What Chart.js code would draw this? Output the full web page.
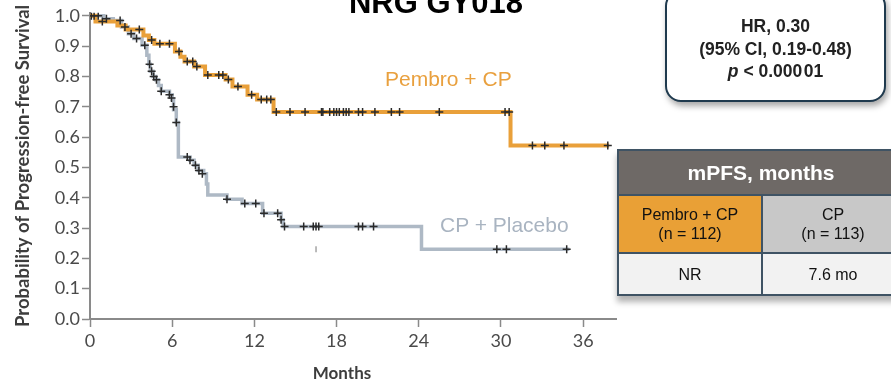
<!DOCTYPE html>
<html>
<head>
<meta charset="utf-8">
<script src="https://cdn.jsdelivr.net/npm/chart.js@4/dist/chart.umd.min.js"></script>
<style>
  html, body { margin: 0; padding: 0; background: #fff; overflow: hidden; }
  #wrap { position: relative; width: 891px; height: 384px; overflow: hidden; }
  canvas { position: absolute; left: 0; top: 0; }
  .ov { position: absolute; white-space: nowrap; }
  #title { left: 286px; width: 300px; top: -13px; text-align: center; font: bold 31px "Liberation Sans", Arial, sans-serif; color: #000; line-height: 31px; }
  #hrbox { left: 665px; top: -10px; width: 221px; height: 112px; box-sizing: border-box; border: 2px solid #1f3a4e; border-radius: 16px; background: #fff;
           box-shadow: 2px 4px 6px rgba(0,0,0,0.35); text-align: center; font: bold 17.5px "Liberation Sans", Arial, sans-serif; color: #222;
           line-height: 22.5px; padding-top: 23px; }
  #hrbox div { height: 22.5px; }
  #lblP { left: 385px; top: 68px; font: 21px "Liberation Sans", Arial, sans-serif; color: #E9A03E; line-height: 21px; }
  #lblC { left: 440px; top: 214px; font: 21px "Liberation Sans", Arial, sans-serif; color: #A9B4C1; line-height: 21px; }
  #months { left: 292px; width: 100px; top: 363px; text-align: center; font: bold 17px Lato, sans-serif; color: #3d3d3d; line-height: 20px; }
  #tbl { left: 617px; top: 149px; width: 284px; border: 2px solid #3f5364; box-shadow: 0 6px 6px rgba(0,0,0,0.3); font-family: "Liberation Sans", Arial, sans-serif; }
  #tbl .row { display: flex; }
  #tbl .hd { height: 43px; background: #6e6966; color: #fff; font-weight: bold; font-size: 21px; align-items: center; justify-content: center; border-bottom: 2px solid #3f5364; }
  #tbl .c { display: flex; flex-direction: column; align-items: center; justify-content: center; text-align: center; font-size: 16px; color: #111; line-height: 19px; }
  #tbl .r2 { height: 56px; border-bottom: 2px solid #3f5364; }
  #tbl .r3 { height: 40px; background: #f2f2f2; }
  #tbl .c1 { width: 142px; border-right: 2px solid #3f5364; }
  #tbl .c2 { flex: 1; }
</style>
</head>
<body>
<div id="wrap">
  <canvas id="km" width="891" height="384"></canvas>
  <div class="ov" id="title">NRG GY018</div>
  <div class="ov" id="lblP">Pembro + CP</div>
  <div class="ov" id="lblC">CP + Placebo</div>
  <div class="ov" id="months">Months</div>
  <div class="ov" id="hrbox">
    <div>HR, 0.30</div>
    <div>(95% CI, 0.19-0.48)</div>
    <div><i>p</i> &lt; 0.000&#8202;01</div>
  </div>
  <div class="ov" id="tbl">
    <div class="row hd">mPFS, months</div>
    <div class="row r2">
      <div class="c c1" style="background:#E9A036"><span>Pembro + CP</span><span>(n = 112)</span></div>
      <div class="c c2" style="background:#c8c8c8"><span>CP</span><span>(n = 113)</span></div>
    </div>
    <div class="row r3">
      <div class="c c1">NR</div>
      <div class="c c2">7.6 mo</div>
    </div>
  </div>
</div>
<script>
// ---- Data ----
const monthTicks = [0, 6, 12, 18, 24, 30, 36];
const survivalTicks = [0.0, 0.1, 0.2, 0.3, 0.4, 0.5, 0.6, 0.7, 0.8, 0.9, 1.0];

// Pembro + CP (Kaplan-Meier steps)
const pembroMonths   = [0, 0.4, 2.0, 2.6, 3.9, 4.3, 4.7, 6.2, 6.6, 6.9, 7.6, 8.4, 9.9, 10.4, 11.5, 12.2, 13.4, 30.7, 37.9];
const pembroSurvival = [1.0, 0.981, 0.968, 0.955, 0.935, 0.92, 0.908, 0.882, 0.865, 0.849, 0.833, 0.805, 0.79, 0.767, 0.74, 0.724, 0.683, 0.572, 0.572];
const pembroCensorMonths   = [0.3, 0.9, 3.6, 4.5, 5.1, 5.8, 6.5, 7.1, 7.5, 7.8, 8.6, 9.4, 9.7, 10.1, 10.8, 11.8, 12.5, 12.9, 13.2, 13.6,
                              14.6, 15.7, 16.9, 17.0, 17.5, 17.8, 18.0, 18.2, 18.5, 18.7, 18.9, 19.6, 19.9, 20.8, 22.0, 22.6, 25.5, 30.3, 30.6,
                              32.3, 33.2, 34.6, 37.8];
const pembroCensorSurvival = [1.0, 0.981, 0.955, 0.92, 0.908, 0.908, 0.882, 0.849, 0.849, 0.833, 0.805, 0.805, 0.805, 0.79, 0.767, 0.74, 0.724, 0.724, 0.724, 0.683,
                              0.683, 0.683, 0.683, 0.683, 0.683, 0.683, 0.683, 0.683, 0.683, 0.683, 0.683, 0.683, 0.683, 0.683, 0.683, 0.683, 0.683, 0.683, 0.683,
                              0.572, 0.572, 0.572, 0.572];

// CP + Placebo (Kaplan-Meier steps)
const placeboMonths   = [0, 1.0, 1.7, 2.3, 2.8, 3.2, 3.8, 4.15, 4.3, 4.4, 4.6, 4.8, 5.0, 5.2, 5.8, 6.0, 6.1, 6.3, 6.45, 7.3, 7.6, 7.9, 8.3, 8.5, 8.6, 10.0, 11.1, 12.6, 13.95, 14.1, 24.2, 35.0];
const placeboSurvival = [1.0, 0.99, 0.985, 0.963, 0.941, 0.925, 0.903, 0.87, 0.84, 0.817, 0.80, 0.789, 0.77, 0.751, 0.74, 0.725, 0.69, 0.648, 0.534, 0.524, 0.507, 0.49, 0.479, 0.445, 0.409, 0.395, 0.381, 0.349, 0.327, 0.305, 0.23, 0.23];
const placeboCensorMonths   = [0.1, 0.6, 1.2, 2.2, 2.55, 3.0, 3.4, 4.0, 4.35, 4.5, 4.65, 4.85, 5.2, 5.8, 5.95, 6.1, 6.3, 7.1, 7.3, 7.7,
                               7.95, 8.2, 10.0, 11.3, 12.1, 12.7, 13.7, 13.95, 14.2, 15.6, 16.3, 16.5, 16.7, 19.6, 19.9, 20.7, 29.7, 30.4, 34.8];
const placeboCensorSurvival = [1.0, 1.0, 0.99, 0.985, 0.963, 0.941, 0.925, 0.903, 0.84, 0.817, 0.80, 0.789, 0.751, 0.74, 0.729, 0.70, 0.648, 0.534, 0.524, 0.507,
                               0.49, 0.479, 0.395, 0.381, 0.381, 0.349, 0.349, 0.327, 0.305, 0.305, 0.305, 0.305, 0.305, 0.305, 0.305, 0.305, 0.23, 0.23, 0.23];

// stray tick mark visible below the placebo curve
const strayMonths = [16.5];
const strayValues = [0.23];

const pts = (xs, ys) => xs.map((x, i) => ({ x: x, y: ys[i] }));

const ORANGE = '#E9A03A';
const GREY = '#AEB9C5';
const MARK = '#2a2a2a';

new Chart(document.getElementById('km'), {
  type: 'scatter',
  data: {
    datasets: [
      { label: 'CP + Placebo', data: pts(placeboMonths, placeboSurvival), showLine: true, stepped: 'before',
        borderColor: GREY, borderWidth: 3.5, pointRadius: 0, order: 3 },
      { label: 'Pembro + CP', data: pts(pembroMonths, pembroSurvival), showLine: true, stepped: 'before',
        borderColor: ORANGE, borderWidth: 4, pointRadius: 0, order: 2 },
      { label: 'Placebo censored', data: pts(placeboCensorMonths, placeboCensorSurvival), pointStyle: 'cross',
        pointRadius: 4, borderColor: MARK, borderWidth: 1.5, backgroundColor: MARK, order: 1 },
      { label: 'Pembro censored', data: pts(pembroCensorMonths, pembroCensorSurvival), pointStyle: 'cross',
        pointRadius: 4, borderColor: MARK, borderWidth: 1.5, backgroundColor: MARK, order: 1 },
      { label: 'stray', data: pts(strayMonths, strayValues), pointStyle: 'line', rotation: 90,
        pointRadius: 3, borderColor: '#777', borderWidth: 1, order: 1 }
    ]
  },
  options: {
    responsive: false,
    animation: false,
    devicePixelRatio: 1,
    layout: { padding: { left: 0, right: 275, top: 9, bottom: 0 } },
    plugins: { legend: { display: false }, tooltip: { enabled: false }, title: { display: false } },
    scales: {
      x: {
        type: 'linear', min: 0, max: 38.4,
        afterBuildTicks: (s) => { s.ticks = monthTicks.map(v => ({ value: v })); },
        afterFit: (s) => { s.height = 65; },
        border: { display: true, color: '#8a8a8a', width: 2 },
        grid: { display: true, drawOnChartArea: false, drawTicks: true, tickLength: 8, tickColor: '#8a8a8a', tickWidth: 1.5 },
        ticks: { padding: 3, color: '#4a4a4a', font: { family: 'Lato', size: 18 }, maxRotation: 0 }
      },
      y: {
        type: 'linear', min: 0, max: 1.01,
        afterBuildTicks: (s) => { s.ticks = survivalTicks.map(v => ({ value: v })); },
        afterFit: (s) => { s.width = 90; },
        border: { display: true, color: '#8a8a8a', width: 2 },
        grid: { display: true, drawOnChartArea: false, drawTicks: true, tickLength: 8, tickColor: '#8a8a8a', tickWidth: 1.5 },
        ticks: { padding: 2, color: '#4a4a4a', font: { family: 'Lato', size: 18 }, callback: (v) => Number(v).toFixed(1) },
        title: { display: true, text: 'Probability of Progression-free Survival', color: '#3d3d3d',
                 font: { family: 'Lato', size: 18.5, weight: 'bold' }, padding: { top: 12, bottom: 0 } }
      }
    }
  }
});
</script>
</body>
</html>
